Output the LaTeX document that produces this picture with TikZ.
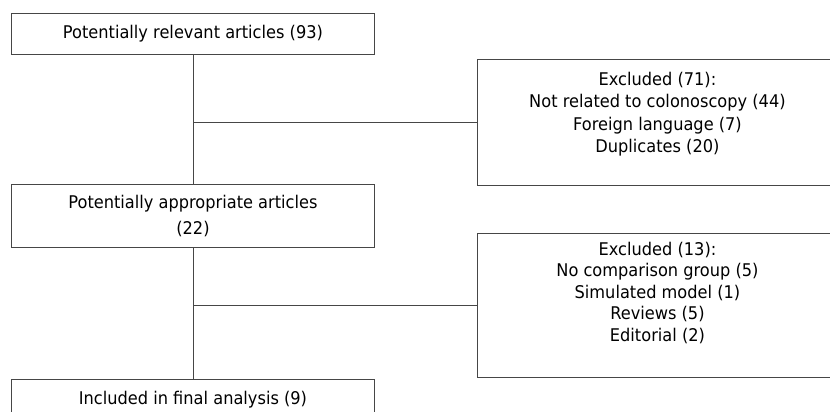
\documentclass[tikz,border=0pt]{standalone}
\usepackage{fontspec}
\setmainfont{DejaVu Sans}[FakeStretch=0.926]
\usepackage{tikz}
\usetikzlibrary{positioning, calc}
\definecolor{framegray}{RGB}{70,70,70}
\tikzset{
    stagebox/.style={
        rectangle,
        draw=framegray,
        line width=0.9pt,
        anchor=north west,
        minimum width=363pt,
        align=center,
        text=black,
        font=\fontsize{17.5}{25.5}\selectfont
    },
    exclbox/.style={
        stagebox,
        minimum width=360pt
    },
    reasons/.style={
        inner sep=0pt,
        align=center,
        text=black,
        font=\fontsize{17.5}{21.5}\selectfont
    },
    link/.style={
        draw=framegray,
        line width=0.9pt
    }
}

\begin{document}
\begin{tikzpicture}[x=1pt, y=-1pt]

\useasboundingbox (0,0) rectangle (830,412);
\clip (0,0) rectangle (830,412);

% Screening stages
\node[stagebox, minimum height=41pt] (relevant) at (11,13) {Potentially relevant articles (93)};
\node[stagebox, minimum height=63pt] (appropriate) at (11,184) {Potentially appropriate articles\\(22)};
\node[stagebox, minimum height=40pt] (included) at (11,379) {Included in final analysis (9)};

% Exclusions
\node[exclbox, minimum height=126pt] (excluded1) at (477,59) {};
\node[reasons, font=\fontsize{17.5}{22.3}\selectfont, below=13pt of excluded1.north] (reasons1) {Excluded (71):\\Not related to colonoscopy (44)\\Foreign language (7)\\Duplicates (20)};
\node[exclbox, minimum height=144pt] (excluded2) at (477,233) {};
\node[reasons, below=9pt of excluded2.north] (reasons2) {Excluded (13):\\No comparison group (5)\\Simulated model (1)\\Reviews (5)\\Editorial (2)};

% Connections
\draw[link] (relevant) -- (appropriate);
\draw[link] (appropriate) -- (included);
\draw[link] (excluded1.west) -- (excluded1.west -| relevant.south);
\draw[link] (excluded2.west) -- (excluded2.west -| appropriate.south);

\end{tikzpicture}
\end{document}
